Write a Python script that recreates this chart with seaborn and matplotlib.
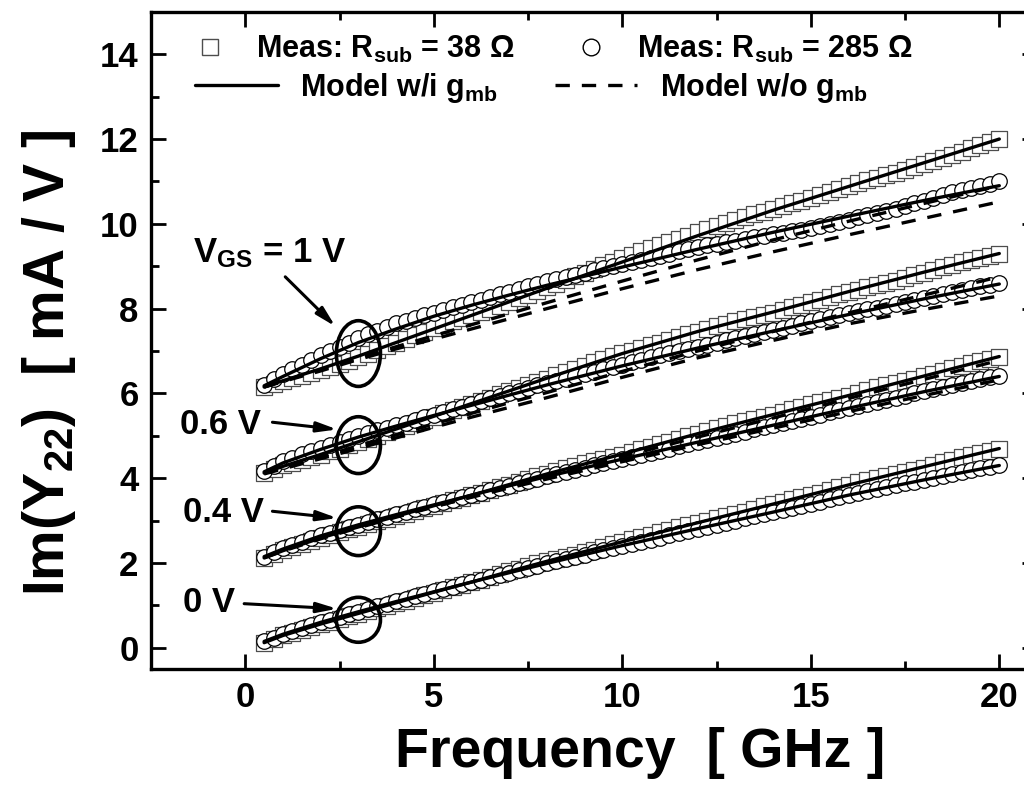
import matplotlib
matplotlib.use("Agg")
import matplotlib.pyplot as plt
import seaborn as sns
from matplotlib.lines import Line2D
from matplotlib.patches import Ellipse
from matplotlib.ticker import MultipleLocator

# ---------------- data ----------------
freq = [0.5, 0.75, 1.0,
        1.25, 1.5, 1.75, 2.0, 2.25, 2.5, 2.75, 3.0, 3.25, 3.5, 3.75, 4.0,
        4.25, 4.5, 4.75, 5.0, 5.25, 5.5, 5.75, 6.0, 6.25, 6.5, 6.75, 7.0,
        7.25, 7.5, 7.75, 8.0, 8.25, 8.5, 8.75, 9.0, 9.25, 9.5, 9.75, 10.0,
        10.25, 10.5, 10.75, 11.0, 11.25, 11.5, 11.75, 12.0, 12.25, 12.5, 12.75, 13.0,
        13.25, 13.5, 13.75, 14.0, 14.25, 14.5, 14.75, 15.0, 15.25, 15.5, 15.75, 16.0,
        16.25, 16.5, 16.75, 17.0, 17.25, 17.5, 17.75, 18.0, 18.25, 18.5, 18.75, 19.0,
        19.25, 19.5, 19.75, 20.0]

# measured, Rsub = 38 ohm (squares)
meas38_1v = [6.15, 6.22, 6.30,
             6.36, 6.42, 6.49, 6.55, 6.62, 6.70, 6.77, 6.85, 6.94, 7.03, 7.11, 7.20,
             7.29, 7.38, 7.46, 7.55, 7.62, 7.70, 7.77, 7.85, 7.92, 8.00, 8.07, 8.15,
             8.24, 8.33, 8.41, 8.50, 8.59, 8.68, 8.76, 8.85, 8.94, 9.03, 9.11, 9.20,
             9.27, 9.35, 9.42, 9.50, 9.57, 9.65, 9.72, 9.80, 9.87, 9.95, 10.02, 10.10,
             10.16, 10.23, 10.29, 10.35, 10.41, 10.48, 10.54, 10.60, 10.68, 10.75, 10.83, 10.90,
             10.96, 11.03, 11.09, 11.15, 11.21, 11.28, 11.34, 11.40, 11.48, 11.55, 11.63, 11.70,
             11.78, 11.85, 11.93, 12.00]
meas38_06v = [4.12, 4.21, 4.30,
              4.36, 4.42, 4.49, 4.55, 4.63, 4.70, 4.78, 4.85, 4.93, 5.00, 5.08, 5.15,
              5.23, 5.30, 5.38, 5.45, 5.53, 5.60, 5.68, 5.75, 5.83, 5.90, 5.98, 6.05,
              6.13, 6.20, 6.28, 6.35, 6.43, 6.50, 6.58, 6.65, 6.73, 6.80, 6.88, 6.95,
              7.01, 7.08, 7.14, 7.20, 7.26, 7.33, 7.39, 7.45, 7.51, 7.58, 7.64, 7.70,
              7.75, 7.80, 7.85, 7.90, 7.96, 8.03, 8.09, 8.15, 8.21, 8.28, 8.34, 8.40,
              8.45, 8.50, 8.55, 8.60, 8.66, 8.73, 8.79, 8.85, 8.91, 8.98, 9.04, 9.10,
              9.15, 9.20, 9.25, 9.30]
meas38_04v = [2.12, 2.21, 2.30,
              2.38, 2.45, 2.53, 2.60, 2.66, 2.73, 2.79, 2.85, 2.91, 2.98, 3.04, 3.10,
              3.16, 3.23, 3.29, 3.35, 3.41, 3.48, 3.54, 3.60, 3.66, 3.73, 3.79, 3.85,
              3.91, 3.98, 4.04, 4.10, 4.16, 4.23, 4.29, 4.35, 4.40, 4.45, 4.50, 4.55,
              4.61, 4.68, 4.74, 4.80, 4.86, 4.93, 4.99, 5.05, 5.11, 5.18, 5.24, 5.30,
              5.35, 5.40, 5.45, 5.50, 5.56, 5.63, 5.69, 5.75, 5.80, 5.85, 5.90, 5.95,
              6.01, 6.08, 6.14, 6.20, 6.25, 6.30, 6.35, 6.40, 6.46, 6.53, 6.59, 6.65,
              6.71, 6.76, 6.82, 6.87]
meas38_0v = [0.12, 0.21, 0.30,
             0.36, 0.43, 0.49, 0.55, 0.61, 0.68, 0.74, 0.80, 0.86, 0.93, 0.99, 1.05,
             1.11, 1.18, 1.24, 1.30, 1.36, 1.43, 1.49, 1.55, 1.61, 1.68, 1.74, 1.80,
             1.86, 1.93, 1.99, 2.05, 2.10, 2.15, 2.20, 2.25, 2.31, 2.38, 2.44, 2.50,
             2.56, 2.61, 2.67, 2.72, 2.78, 2.84, 2.89, 2.95, 3.00, 3.05, 3.10, 3.15,
             3.21, 3.28, 3.34, 3.40, 3.45, 3.50, 3.55, 3.60, 3.66, 3.73, 3.79, 3.85,
             3.90, 3.95, 4.00, 4.05, 4.10, 4.15, 4.20, 4.25, 4.31, 4.38, 4.44, 4.50,
             4.55, 4.60, 4.65, 4.70]

# measured, Rsub = 285 ohm (circles)
meas285_1v = [6.20, 6.33, 6.45,
              6.57, 6.68, 6.79, 6.90, 7.00, 7.10, 7.20, 7.30, 7.39, 7.48, 7.57, 7.65,
              7.71, 7.78, 7.84, 7.90, 7.96, 8.03, 8.09, 8.15, 8.21, 8.28, 8.34, 8.40,
              8.46, 8.53, 8.59, 8.65, 8.70, 8.75, 8.80, 8.85, 8.90, 8.95, 9.00, 9.05,
              9.10, 9.15, 9.20, 9.25, 9.30, 9.35, 9.40, 9.45, 9.49, 9.53, 9.56, 9.60,
              9.64, 9.68, 9.71, 9.75, 9.79, 9.83, 9.86, 9.90, 9.95, 10.00, 10.05, 10.10,
              10.15, 10.20, 10.25, 10.30, 10.36, 10.43, 10.49, 10.55, 10.61, 10.68, 10.74, 10.80,
              10.85, 10.90, 10.95, 11.00]
meas285_06v = [4.18, 4.29, 4.40,
               4.48, 4.56, 4.64, 4.72, 4.79, 4.86, 4.93, 5.00, 5.06, 5.13, 5.19, 5.25,
               5.31, 5.38, 5.44, 5.50, 5.56, 5.63, 5.69, 5.75, 5.81, 5.88, 5.94, 6.00,
               6.06, 6.13, 6.19, 6.25, 6.30, 6.35, 6.40, 6.45, 6.51, 6.57, 6.62, 6.68,
               6.74, 6.79, 6.85, 6.90, 6.95, 7.00, 7.05, 7.10, 7.15, 7.20, 7.25, 7.30,
               7.35, 7.40, 7.45, 7.50, 7.55, 7.60, 7.65, 7.70, 7.75, 7.80, 7.85, 7.90,
               7.94, 7.98, 8.01, 8.05, 8.10, 8.15, 8.20, 8.25, 8.30, 8.35, 8.40, 8.45,
               8.49, 8.53, 8.56, 8.60]
meas285_04v = [2.15, 2.25, 2.35,
               2.43, 2.50, 2.58, 2.65, 2.71, 2.78, 2.84, 2.90, 2.96, 3.03, 3.09, 3.15,
               3.21, 3.27, 3.32, 3.38, 3.44, 3.49, 3.55, 3.60, 3.66, 3.71, 3.77, 3.82,
               3.88, 3.94, 3.99, 4.05, 4.10, 4.15, 4.20, 4.25, 4.30, 4.35, 4.40, 4.45,
               4.50, 4.55, 4.60, 4.65, 4.70, 4.75, 4.80, 4.85, 4.90, 4.95, 5.00, 5.05,
               5.10, 5.15, 5.20, 5.25, 5.30, 5.35, 5.40, 5.45, 5.50, 5.55, 5.60, 5.65,
               5.70, 5.75, 5.80, 5.85, 5.90, 5.95, 6.00, 6.05, 6.10, 6.15, 6.20, 6.25,
               6.29, 6.34, 6.38, 6.42]
meas285_0v = [0.15, 0.24, 0.33,
              0.40, 0.47, 0.53, 0.60, 0.66, 0.73, 0.79, 0.85, 0.91, 0.98, 1.04, 1.10,
              1.16, 1.22, 1.27, 1.33, 1.39, 1.44, 1.50, 1.55, 1.61, 1.66, 1.72, 1.77,
              1.83, 1.89, 1.94, 2.00, 2.05, 2.10, 2.15, 2.20, 2.25, 2.30, 2.35, 2.40,
              2.45, 2.50, 2.55, 2.60, 2.65, 2.70, 2.75, 2.80, 2.85, 2.90, 2.95, 3.00,
              3.05, 3.10, 3.15, 3.20, 3.25, 3.30, 3.35, 3.40, 3.45, 3.50, 3.55, 3.60,
              3.65, 3.70, 3.75, 3.80, 3.84, 3.88, 3.91, 3.95, 4.00, 4.05, 4.10, 4.15,
              4.19, 4.23, 4.26, 4.30]

# model curves
freq_model = [0.5, 1, 2, 3, 4, 5, 6, 7, 8, 10, 12, 14, 16, 18, 20]
# with g_mb (solid)
model_gmb38_1v = [6.15, 6.30, 6.58, 6.88, 7.20, 7.52, 7.84, 8.16, 8.48, 9.10, 9.72, 10.32, 10.88, 11.44, 12.00]
model_gmb285_1v = [6.18, 6.40, 6.82, 7.20, 7.52, 7.82, 8.08, 8.32, 8.55, 8.98, 9.40, 9.80, 10.18, 10.55, 10.90]
model_gmb38_06v = [4.12, 4.28, 4.56, 4.86, 5.16, 5.46, 5.76, 6.06, 6.36, 6.94, 7.46, 7.92, 8.40, 8.86, 9.30]
model_gmb285_06v = [4.15, 4.36, 4.68, 4.97, 5.23, 5.48, 5.72, 5.96, 6.20, 6.65, 7.07, 7.47, 7.86, 8.23, 8.58]
model_gmb38_04v = [2.12, 2.29, 2.59, 2.85, 3.10, 3.35, 3.60, 3.85, 4.10, 4.57, 5.05, 5.50, 5.95, 6.41, 6.87]
model_gmb285_04v = [2.15, 2.33, 2.64, 2.90, 3.14, 3.37, 3.60, 3.82, 4.04, 4.45, 4.85, 5.25, 5.65, 6.04, 6.40]
model_gmb38_0v = [0.12, 0.29, 0.56, 0.81, 1.06, 1.31, 1.55, 1.80, 2.04, 2.50, 2.95, 3.39, 3.84, 4.27, 4.70]
model_gmb285_0v = [0.15, 0.32, 0.60, 0.85, 1.09, 1.32, 1.55, 1.77, 1.99, 2.41, 2.81, 3.20, 3.60, 3.96, 4.30]
# without g_mb (dashed)
model_nogmb_a_1v = [6.15, 6.28, 6.53, 6.80, 7.05, 7.28, 7.52, 7.76, 8.00, 8.47, 8.92, 9.34, 9.74, 10.13, 10.52]
model_nogmb_b_1v = [6.15, 6.29, 6.56, 6.84, 7.10, 7.36, 7.62, 7.88, 8.14, 8.65, 9.15, 9.62, 10.06, 10.48, 10.90]
model_nogmb_a_06v = [4.10, 4.22, 4.46, 4.70, 4.95, 5.20, 5.44, 5.67, 5.90, 6.38, 6.84, 7.25, 7.64, 7.98, 8.30]
model_nogmb_b_06v = [4.12, 4.25, 4.50, 4.76, 5.02, 5.28, 5.53, 5.78, 6.02, 6.52, 7.00, 7.46, 7.90, 8.32, 8.75]
model_nogmb_a_04v = [2.12, 2.28, 2.57, 2.83, 3.08, 3.32, 3.56, 3.80, 4.04, 4.51, 4.97, 5.42, 5.88, 6.33, 6.78]
model_nogmb_b_04v = [2.13, 2.30, 2.60, 2.86, 3.10, 3.33, 3.55, 3.77, 3.98, 4.39, 4.79, 5.18, 5.57, 5.95, 6.32]

legend_labels = [r"Meas: R$_{\mathrm{sub}}$ = 38 Ω", r"Meas: R$_{\mathrm{sub}}$ = 285 Ω",
                 r"Model w/i g$_{\mathrm{mb}}$", r"Model w/o g$_{\mathrm{mb}}$"]
bias_labels = [r"V$_{\mathrm{GS}}$ = 1 V", "0.6 V", "0.4 V", "0 V"]
xlabel = "Frequency  [ GHz ]"
ylabel = r"Im(Y$_{\mathrm{22}}$)  [ mA / V ]"

# annotation geometry (data coordinates)
ann_text_pos = [(0.64, 9.32), (-1.72, 5.27), (-1.64, 3.20), (-1.64, 1.06)]
ann_tail = [(1.06, 8.75), (0.72, 5.32), (0.72, 3.22), (-0.03, 1.04)]
ann_head = [(2.39, 7.58), (2.44, 5.15), (2.44, 3.06), (2.44, 0.92)]
ell_center = [(3.0, 6.94), (3.0, 4.78), (3.0, 2.75), (3.0, 0.66)]
ell_height = [1.55, 1.34, 1.15, 1.06]
ell_width = 1.17

# ---------------- style ----------------
sns.set_theme(style="ticks")
plt.rcParams["font.family"] = ["Liberation Sans", "DejaVu Sans"]
plt.rcParams["font.weight"] = "bold"
plt.rcParams["mathtext.fontset"] = "custom"
plt.rcParams["mathtext.rm"] = "Liberation Sans:bold"
plt.rcParams["mathtext.it"] = "Liberation Sans:bold"
plt.rcParams["mathtext.bf"] = "Liberation Sans:bold"
plt.rcParams["mathtext.sf"] = "Liberation Sans:bold"
plt.rcParams["text.color"] = "black"
plt.rcParams["axes.labelcolor"] = "black"
plt.rcParams["xtick.color"] = "black"
plt.rcParams["ytick.color"] = "black"
plt.rcParams["axes.edgecolor"] = "black"

fig = plt.figure(figsize=(10.24, 7.9), dpi=100)
ax = fig.add_axes([0.1475, 0.1532, 0.8652, 0.8318])

LW = 2.4
DASH = (0, (4.3, 3.6))
MS = 125

meas38 = [meas38_1v, meas38_06v, meas38_04v, meas38_0v]
meas285 = [meas285_1v, meas285_06v, meas285_04v, meas285_0v]
for y in meas38:
    sns.scatterplot(x=freq, y=y, ax=ax, marker="s", s=MS, color="white",
                    edgecolor="0.3", linewidth=0.9, zorder=2)
for y in meas285:
    sns.scatterplot(x=freq, y=y, ax=ax, marker="o", s=MS, color="white",
                    edgecolor="black", linewidth=0.9, zorder=2.1)

for y in [model_nogmb_a_1v, model_nogmb_b_1v, model_nogmb_a_06v, model_nogmb_b_06v,
          model_nogmb_a_04v, model_nogmb_b_04v]:
    sns.lineplot(x=freq_model, y=y, ax=ax, color="black", lw=LW, linestyle=DASH,
                 estimator=None, sort=False, zorder=3)
for y in [model_gmb38_1v, model_gmb285_1v, model_gmb38_06v, model_gmb285_06v,
          model_gmb38_04v, model_gmb285_04v, model_gmb38_0v, model_gmb285_0v]:
    sns.lineplot(x=freq_model, y=y, ax=ax, color="black", lw=LW,
                 estimator=None, sort=False, zorder=3.1)

# annotations
for i, lab in enumerate(bias_labels):
    ax.text(*ann_text_pos[i], lab, fontsize=25, fontweight="bold",
            ha="center" if i == 0 else "left", va="center", zorder=5)
    ax.annotate("", xy=ann_head[i], xytext=ann_tail[i],
                arrowprops=dict(arrowstyle="-|>,head_length=1.0,head_width=0.25",
                                lw=2.2, color="black", shrinkA=0, shrinkB=0), zorder=5)
    ax.add_patch(Ellipse(ell_center[i], ell_width, ell_height[i], fill=False,
                         lw=2.6, edgecolor="black", zorder=5))

# axes
ax.set_xlim(-2.5, 21.0)
ax.set_ylim(-0.5, 15.0)
ax.xaxis.set_major_locator(MultipleLocator(5))
ax.xaxis.set_minor_locator(MultipleLocator(2.5))
ax.yaxis.set_major_locator(MultipleLocator(2))
ax.yaxis.set_minor_locator(MultipleLocator(1))
ax.set_xticks([0, 5, 10, 15, 20])
ax.set_yticks([0, 2, 4, 6, 8, 10, 12, 14])
ax.tick_params(which="major", direction="in", length=10.5, width=2.0,
               top=True, right=True, labelsize=25, pad=9)
ax.tick_params(which="minor", direction="in", length=5.5, width=2.0,
               top=True, right=True)
for lab in ax.get_xticklabels() + ax.get_yticklabels():
    lab.set_fontweight("bold")
for sp in ax.spines.values():
    sp.set_linewidth(2.4)
    sp.set_visible(True)

ax.set_xlabel(xlabel, fontsize=40, fontweight="bold")
ax.xaxis.set_label_coords(0.552, -0.088)
ax.set_ylabel(ylabel, fontsize=41, fontweight="bold")
ax.yaxis.set_label_coords(-0.082, 0.466)

# legend: two rows, drawn as two legends
h_sq = Line2D([], [], marker="s", ls="none", mfc="white", mec="0.3", ms=12, mew=1.0)
h_ci = Line2D([], [], marker="o", ls="none", mfc="white", mec="black", ms=12, mew=1.0)
h_solid = Line2D([], [], color="black", lw=LW)
h_dash = Line2D([], [], color="black", lw=LW, linestyle=DASH)

leg1 = ax.legend([h_sq, h_ci], [legend_labels[0], legend_labels[1]], ncol=2,
                 loc="upper left", bbox_to_anchor=(0.0497, 0.967), frameon=False,
                 fontsize=22, handlelength=1.0, handletextpad=1.0, columnspacing=2.0,
                 borderpad=0.0, borderaxespad=0.0)
ax.add_artist(leg1)
leg2 = ax.legend([h_solid, h_dash], [legend_labels[2], legend_labels[3]], ncol=2,
                 loc="upper left", bbox_to_anchor=(0.0497, 0.910), frameon=False,
                 fontsize=22, handlelength=2.7, handletextpad=0.75, columnspacing=1.85,
                 borderpad=0.0, borderaxespad=0.0)
for lg in (leg1, leg2):
    for t in lg.get_texts():
        t.set_fontweight("bold")

fig.savefig("out.png", dpi=100)
